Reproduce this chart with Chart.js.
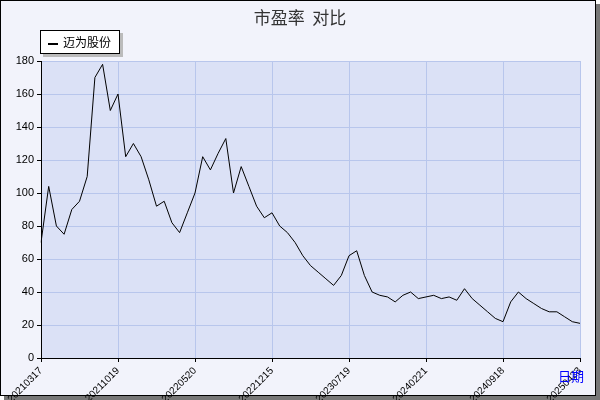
<!DOCTYPE html>
<html><head><meta charset="utf-8">
<script src="https://cdn.jsdelivr.net/npm/chart.js@4"></script>
<style>
body{margin:0;background:#fff;font-family:"DejaVu Sans",sans-serif}
#wrap{position:absolute;left:0;top:0;width:594px;height:394px;background:#f2f3fb;border:1px solid #000;box-shadow:4px 4px 0 #777}
#title{position:absolute;left:0;width:600px;top:4px;text-align:center;font-size:17px;color:#333;font-family:"Noto Sans CJK SC"}
#legend{position:absolute;left:40px;top:30px;width:78px;height:22px;background:#fff;border:1px solid #000;box-shadow:3px 3px 0 #bbb;font-size:12px;font-family:"Noto Sans CJK SC";line-height:22px}
#xname{position:absolute;left:558px;top:366px;color:#00f;font-size:13px;font-family:"Noto Sans CJK SC"}
canvas{position:absolute;left:0;top:0}
</style></head><body>
<div id="wrap"></div>
<canvas id="c" width="600" height="400"></canvas>
<div id="title">市盈率&nbsp;&nbsp;对比</div>
<div id="legend"><span style="display:inline-block;width:10px;height:2px;background:#000;vertical-align:middle;margin:0 5px 0 7px"></span>迈为股份</div>
<div id="xname">日期</div>
<script>
const tickLabels=["20210317","20211019","20220520","20221215","20230719","20240221","20240918","20250423"];
const seg1=[70,104,80,75,90,95,110,170,178,150];
const seg2=[160,122,130,122,108,92,95,82,76,88];
const seg3=[100,122,114,124,133,100,116,104,92,85];
const seg4=[88,80,76,70,62,56,52,48,44,50];
const seg5=[62,65,50,40,38,37,34,38,40,36];
const seg6=[37,38,36,37,35,42,36,32,28,24];
const seg7=[22,34,40,36,33,30,28,28,25,22,21];
const values=[...seg1,...seg2,...seg3,...seg4,...seg5,...seg6,...seg7];
const labels=values.map((v,i)=>i%10===0?tickLabels[i/10]:"");
const bg={id:"bg",beforeDraw(c){const a=c.chartArea,x=c.ctx;x.save();x.fillStyle="#dbe1f6";x.fillRect(a.left,a.top,a.right-a.left,a.bottom-a.top);x.restore();}};
new Chart(document.getElementById("c"),{type:"line",
data:{labels,datasets:[{label:"迈为股份",data:values,borderColor:"#000",borderWidth:1,pointRadius:0,tension:0}]},
options:{responsive:false,animation:false,layout:{padding:{left:0,right:20,top:61,bottom:0}},
plugins:{legend:{display:false},tooltip:{enabled:false}},
scales:{
x:{offset:false,afterFit(s){s.height=42;},grid:{color:(c)=>labels[c.index]?"#b8c6ec":"transparent",tickLength:4,tickColor:(c)=>labels[c.index]?"#000":"transparent"},border:{color:"#000"},
ticks:{autoSkip:false,maxRotation:45,minRotation:45,color:"#000",font:{size:10},callback:(v,i)=>labels[i]}},
y:{min:0,max:180,afterFit(s){s.width=41;},ticks:{stepSize:20,color:"#000",font:{size:11}},grid:{color:"#b8c6ec",tickLength:4,tickColor:"#000"},border:{color:"#000"}}}},
plugins:[bg]});
</script></body></html>
